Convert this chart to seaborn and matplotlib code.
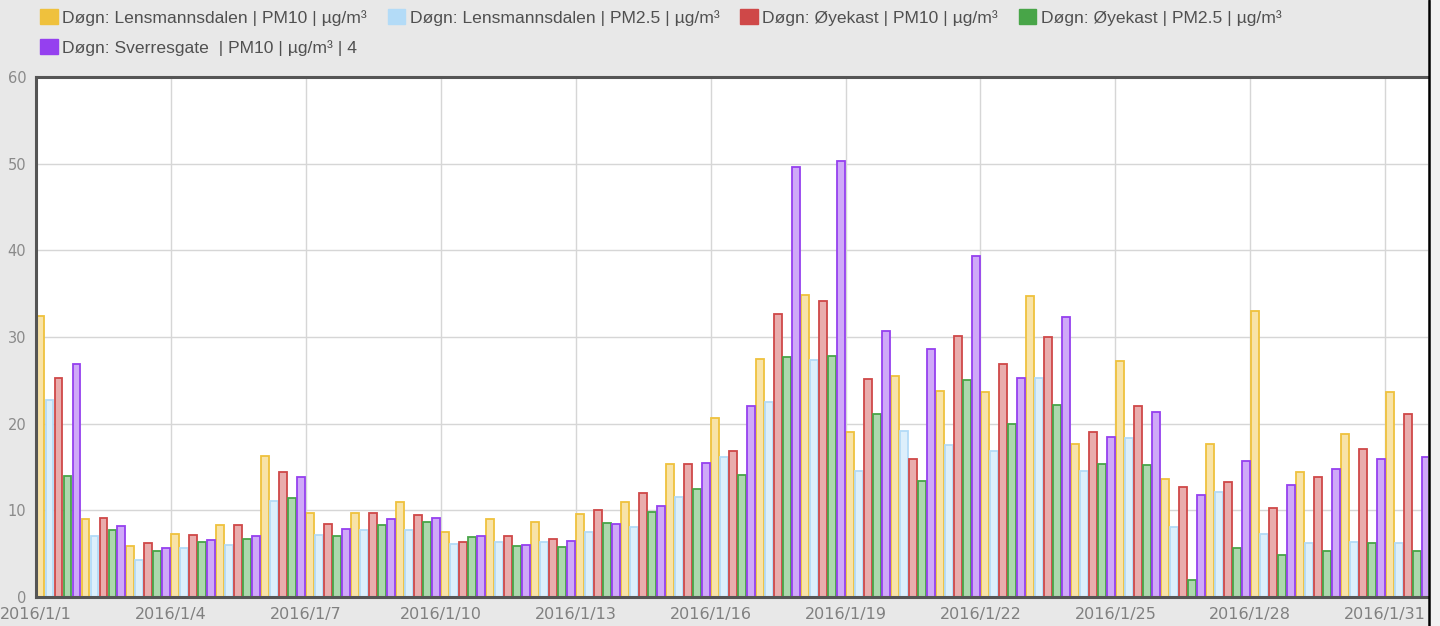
import matplotlib
matplotlib.use("Agg")
import matplotlib.pyplot as plt
import seaborn as sns
import pandas as pd
import numpy as np
from matplotlib.colors import to_rgb
from matplotlib.patches import Rectangle, Patch
from matplotlib.lines import Line2D

# ---------------- data ----------------
dates = [f"2016/1/{d}" for d in range(1, 32)]

series_names = [
    "Døgn: Lensmannsdalen | PM10 | µg/m³",
    "Døgn: Lensmannsdalen | PM2.5 | µg/m³",
    "Døgn: Øyekast | PM10 | µg/m³",
    "Døgn: Øyekast | PM2.5 | µg/m³",
    "Døgn: Sverresgate  | PM10 | µg/m³ | 4",
]

lens_pm10 = [32.4, 9.0, 5.9, 7.3, 8.3, 16.3, 9.7, 9.7, 11.0, 7.5, 9.0, 8.6, 9.6, 11.0, 15.3, 20.7,
             27.5, 34.8, 19.0, 25.5, 23.8, 23.6, 34.7, 17.6, 27.2, 13.6, 17.7, 33.0, 14.4, 18.8, 23.6]
lens_pm25 = [22.7, 7.0, 4.3, 5.7, 6.0, 11.1, 7.2, 7.7, 7.7, 6.1, 6.3, 6.3, 7.5, 8.1, 11.5, 16.2,
             22.5, 27.3, 14.5, 19.1, 17.5, 16.8, 25.3, 14.5, 18.3, 8.1, 12.1, 7.3, 6.2, 6.4, 6.2]
oye_pm10 = [25.3, 9.1, 6.2, 7.2, 8.3, 14.45, 8.4, 9.65, 9.5, 6.4, 7.0, 6.7, 10.0, 12.0, 15.3, 16.8,
            32.7, 34.1, 25.2, 15.9, 30.1, 26.9, 30.0, 19.0, 22.0, 12.7, 13.3, 10.3, 13.8, 17.1, 21.1]
oye_pm25 = [14.0, 7.7, 5.3, 6.3, 6.7, 11.4, 7.0, 8.3, 8.6, 6.9, 5.9, 5.8, 8.5, 9.8, 12.5, 14.1,
            27.7, 27.8, 21.1, 13.4, 25.0, 20.0, 22.1, 15.3, 15.2, 2.0, 5.7, 4.8, 5.3, 6.2, 5.3]
sverre_pm10 = [26.9, 8.2, 5.7, 6.6, 7.0, 13.8, 7.8, 9.0, 9.1, 7.0, 6.0, 6.5, 8.4, 10.5, 15.5, 22.0,
               49.6, 50.3, 30.7, 28.6, 39.3, 25.3, 32.3, 18.5, 21.3, 11.8, 15.7, 12.9, 14.8, 15.9, 16.1]

colors = ["#efc13d", "#b3dbf7", "#cf4848", "#48a548", "#9540ef"]
y_ticks = [0, 10, 20, 30, 40, 50, 60]

# ---------------- style ----------------
sns.set_theme(style="white")
plt.rcParams['font.family'] = ['Liberation Sans', 'DejaVu Sans']

df = pd.DataFrame({
    "date": dates * 5,
    "series": np.repeat(series_names, len(dates)),
    "value": lens_pm10 + lens_pm25 + oye_pm10 + oye_pm25 + sverre_pm10,
})

W, H = 1440, 626
fig = plt.figure(figsize=(W / 100, H / 100), dpi=100, facecolor="#e8e8e8")
ax = fig.add_axes([36 / W, 1 - 597 / H, 1392 / W, 520 / H])
ax.set_facecolor("white")

sns.barplot(data=df, x="date", y="value", hue="series", hue_order=series_names,
            order=dates, palette=colors, width=1.0, gap=0.12, saturation=1,
            legend=False, ax=ax)


def lighten(c, f):
    r, g, b = to_rgb(c)
    return (r + (1 - r) * f, g + (1 - g) * f, b + (1 - b) * f)


for cont, c in zip(ax.containers, colors):
    for bar in cont:
        bar.set_facecolor(lighten(c, 0.55))
        bar.set_edgecolor(c)
        bar.set_linewidth(1.3)

ax.set_xlim(-0.5, 30.45)
ax.set_ylim(0, 60)
ax.set_yticks(y_ticks)
ax.set_yticklabels([str(v) for v in y_ticks], family="DejaVu Sans", fontsize=10.5, color="#8a8a8a")
xt = list(range(0, 31, 3))
ax.set_xticks([i - 0.5 for i in xt])
ax.set_xticklabels([dates[i] for i in xt], family="DejaVu Sans", fontsize=11.5, color="#808080")
ax.tick_params(axis="both", length=0)
ax.tick_params(axis="y", pad=7)
ax.tick_params(axis="x", pad=7)
ax.set_xlabel("")
ax.set_ylabel("")
ax.grid(True, color="#d6d6d6", linewidth=1)
ax.set_axisbelow(True)

for s in ["left", "top", "bottom"]:
    ax.spines[s].set_color("#555555")
    ax.spines[s].set_linewidth(2.2)
ax.spines["right"].set_visible(False)

# right-hand border of the panel
fig.add_artist(Rectangle((1430 / W, 0), 10 / W, 1, transform=fig.transFigure,
                         facecolor="#f2f2f2", edgecolor="none", zorder=5))
fig.add_artist(Line2D([1429 / W, 1429 / W], [0, 1], transform=fig.transFigure,
                      color="black", linewidth=1.8, zorder=6))

# legend (reordered so that matplotlib's column filling reads row by row)
handles = [Patch(facecolor=c, edgecolor=c) for c in colors]
order = [0, 4, 1, 2, 3]
fig.legend([handles[i] for i in order], [series_names[i] for i in order], ncol=4,
           loc="upper left", bbox_to_anchor=(40 / W, 1 - 9 / H), frameon=False,
           fontsize=12.6, labelcolor="#505050",
           handlelength=1.0, handleheight=0.95, handletextpad=0.25,
           columnspacing=1.2, labelspacing=0.78, borderpad=0, borderaxespad=0)

fig.savefig("out.png", dpi=100, facecolor=fig.get_facecolor())
